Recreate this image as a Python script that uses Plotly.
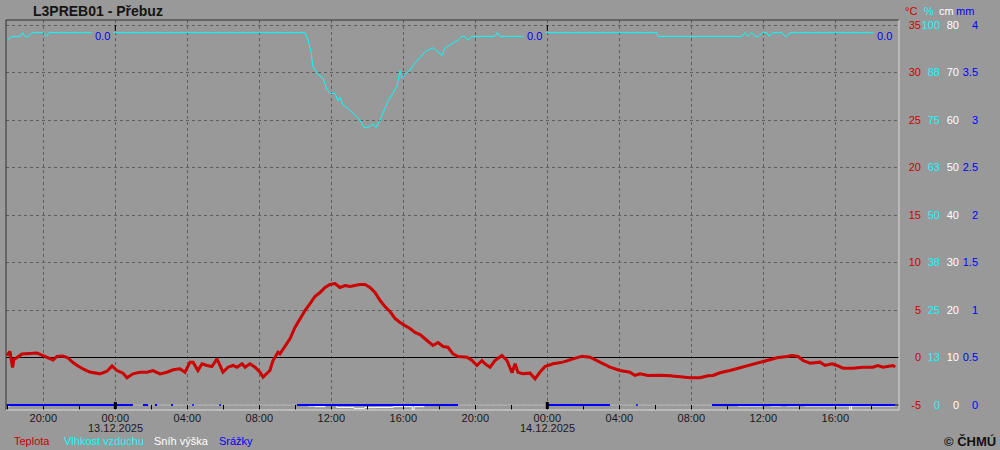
import plotly.graph_objects as go
import pandas as pd

station = "L3PREB01 - Přebuz"
base = pd.Timestamp("2025-12-13 00:00")

# hours relative to 13.12.2025 00:00
temp_h = [-6.02, -5.85, -5.71, -5.63, -5.46, -5.18, -4.74, -4.35, -4.02, -3.63,
          -3.46, -3.24, -2.91, -2.63, -2.35, -2.07, -1.74, -1.41, -1.07, -0.85,
          -0.46, -0.18, 0.09, 0.43, 0.65, 0.98, 1.37, 1.76, 2.09, 2.48,
          2.87, 3.21, 3.59, 3.87, 4.15, 4.32, 4.59, 4.82, 5.09, 5.37,
          5.65, 5.82, 5.98, 6.26, 6.54, 6.76, 7.04, 7.21, 7.48, 7.76,
          8.04, 8.21, 8.43, 8.59, 8.76, 9.04, 9.15, 9.32, 9.54, 9.71,
          9.98, 10.26, 10.54, 10.82, 11.09, 11.37, 11.65, 11.93, 12.21, 12.48,
          12.76, 13.04, 13.32, 13.59, 13.87, 14.15, 14.43, 14.71, 14.98, 15.26,
          15.54, 15.82, 16.09, 16.37, 16.65, 16.93, 17.32, 17.65, 17.93, 18.21,
          18.48, 18.76, 19.04, 19.54, 19.82, 20.09, 20.37, 20.54, 20.82, 21.09,
          21.48, 21.76, 22.04, 22.21, 22.37, 22.65, 23.04, 23.32, 23.59, 23.87,
          24.32, 24.87, 25.43, 25.93, 26.37, 26.93, 27.48, 28.04, 28.59, 28.87,
          29.15, 29.59, 30.26, 30.82, 31.37, 31.93, 32.48, 32.93, 33.21, 33.59,
          34.15, 34.71, 35.26, 35.82, 36.21, 36.76, 37.32, 37.59, 37.93, 38.21,
          38.59, 39.15, 39.43, 39.82, 40.09, 40.43, 40.98, 41.54, 42.09, 42.37,
          42.65, 42.93, 43.21, 43.32]
temp_c = [0.21, 0.63, -1.05, -0.21, 0.0, 0.37, 0.42, 0.47, 0.21, -0.11,
          -0.26, 0.11, 0.16, -0.05, -0.53, -0.89, -1.26, -1.53, -1.68, -1.72,
          -1.44, -0.89, -1.37, -1.65, -2.14, -1.72, -1.55, -1.55, -1.37, -1.72,
          -1.55, -1.29, -1.19, -1.55, -0.49, -0.49, -1.37, -0.66, -0.84, -0.95,
          -0.14, -0.84, -1.55, -1.02, -0.84, -1.02, -0.66, -1.02, -0.66, -1.02,
          -1.55, -2.07, -1.72, -1.37, -0.32, 0.56, 0.39, 0.92, 1.61, 2.0,
          3.16, 4.11, 4.95, 5.68, 6.42, 6.84, 7.37, 7.68, 7.79, 7.37,
          7.58, 7.47, 7.58, 7.68, 7.68, 7.37, 6.84, 6.0, 5.37, 4.84,
          4.11, 3.68, 3.37, 3.05, 2.63, 2.42, 1.79, 1.26, 1.58, 1.16,
          1.08, 0.39, 0.11, 0.03, -0.32, -0.84, -0.32, -0.66, -1.02, -0.32,
          0.21, -0.32, -1.61, -0.66, -1.55, -1.72, -1.65, -2.24, -1.55, -0.95,
          -0.66, -0.49, -0.14, 0.14, 0.03, -0.49, -1.02, -1.37, -1.55, -1.89,
          -1.72, -1.89, -1.86, -1.93, -2.07, -2.14, -2.14, -1.93, -1.89, -1.61,
          -1.37, -1.08, -0.74, -0.49, -0.24, -0.03, 0.11, 0.21, 0.11, -0.32,
          -0.6, -0.49, -0.84, -0.66, -0.84, -1.13, -1.13, -1.02, -1.02, -0.84,
          -1.02, -0.95, -0.84, -1.02]

hum_h = [-6.0, -5.76, -5.29, -5.14, -5.02, -4.83, -4.64, -4.0, -3.81, -3.67,
         10.54, 10.71, 10.87, 10.98, 11.26, 11.54, 11.76, 11.93, 12.21, 12.37,
         12.48, 12.65, 12.93, 13.15, 13.32, 13.59, 13.82, 14.04, 14.32, 14.48,
         14.71, 14.98, 15.15, 15.43, 15.65, 15.82, 15.93, 16.09, 16.37, 16.48,
         16.82, 17.21, 17.65, 17.87, 18.15, 18.32, 18.71, 19.04, 19.26, 19.43,
         19.59, 19.82, 21.09, 21.21, 21.37, 22.48, 23.5, 23.9, 30.09, 30.15,
         34.82, 34.98, 35.15, 35.37, 35.54, 35.71, 35.98, 36.21, 36.32, 36.54,
         37.04, 37.21, 37.32, 37.48, 43.32]
hum_pct = [96, 97, 97, 98, 97, 97, 98, 98, 97, 98,
           98, 96, 93, 89, 87, 86, 83, 82, 82, 80,
           81, 79, 78, 77, 76, 75, 73, 73, 74, 73,
           75, 78, 80, 82, 84, 88, 86, 87, 88, 89,
           91, 93, 94, 93, 92, 94, 95, 96, 97, 97,
           96, 97, 97, 98, 97, 97, 97, 98, 98, 97,
           97, 98, 97, 98, 97, 97, 98, 98, 97, 98,
           98, 97, 97, 98, 98]

snow_h = [-6.02, -5.85, 10.7, 11.1, 11.65, 12.3, 13.25, 13.85, 14.45, 15.45,
          16.5, 16.6, 17.15, 34.6, 35.95, 36.4, 37.0, 37.3, 38.0, 38.3,
          40.8, 40.9, 43.32]
snow_cm = [-0.2, 0, -0.2, -0.35, 0, -0.5, -0.7, -0.55, -0.5, -0.35,
           -1.05, -0.35, 0, -0.2, 0, -0.2, 0, -0.2, 0, -0.2,
           -1.05, -0.2, -0.2]

precip_h = [-6.02, 0.98, 1.2, 1.54, 1.82, 2.0, 2.2, 2.32, 2.6, 3.1,
            3.2, 3.6, 4.28, 4.36, 5.0, 5.78, 5.86, 8.0, 10.09, 19.04,
            22.0, 24.03, 27.48, 28.5, 28.94, 29.02, 31.0, 33.15, 43.32]
precip_mm = [0, 0, None, 0, 0, None, 0, 0, None, 0,
             0, None, 0, 0, None, 0, 0, None, 0, 0,
             None, 0, 0, None, 0, 0, None, 0, 0]

tick_times = ["2025-12-12 20:00", "2025-12-13 00:00", "2025-12-13 04:00", "2025-12-13 08:00",
              "2025-12-13 12:00", "2025-12-13 16:00", "2025-12-13 20:00", "2025-12-14 00:00",
              "2025-12-14 04:00", "2025-12-14 08:00", "2025-12-14 12:00", "2025-12-14 16:00"]
tick_labels = ["20:00", "00:00", "04:00", "08:00", "12:00", "16:00",
               "20:00", "00:00", "04:00", "08:00", "12:00", "16:00"]
day_starts = ["2025-12-13 00:00", "2025-12-14 00:00"]
day_labels = ["13.12.2025", "14.12.2025"]

temp_ticks = [-5, 0, 5, 10, 15, 20, 25, 30, 35]
hum_ticks = [0, 12.5, 25, 37.5, 50, 62.5, 75, 87.5, 100]
hum_labels = ["0", "13", "25", "38", "50", "63", "75", "88", "100"]
snow_ticks = [0, 10, 20, 30, 40, 50, 60, 70, 80]
precip_ticks = [0, 0.5, 1, 1.5, 2, 2.5, 3, 3.5, 4]
precip_labels = ["0", "0.5", "1", "1.5", "2", "2.5", "3", "3.5", "4"]

day_sum_times = ["2025-12-13 00:00", "2025-12-14 00:00", "2025-12-14 19:19"]
day_sum_texts = ["0.0", "0.0", "0.0"]

legend_names = ["Teplota", "Vlhkost vzduchu", "Sníh výška", "Srážky"]
unit_names = ["°C", "%", "cm", "mm"]

RED, CYAN, WHITE, BLUE = "#cc0000", "#00ffff", "#ffffff", "#0000ff"
BG = "#999999"
FONT = "Liberation Sans, Arial, sans-serif"

# layout geometry (pixels)
W, H = 1000, 450
L, T, B = 6, 20, 40
PLOT_R = 899
paper_w = W - L
dom_end = (PLOT_R - L) / paper_w


def px(x):
    return (x - L) / paper_w


def py(y):
    return (H - B - y) / (H - T - B)


def to_time(hs):
    return [base + pd.Timedelta(hours=h) for h in hs]


x_range = to_time([-6.072, 43.539])

fig = go.Figure()
fig.add_trace(go.Scatter(x=to_time(snow_h), y=snow_cm, yaxis="y3", mode="lines",
                         line=dict(color=WHITE, width=1, shape="hv"), name=legend_names[2]))
fig.add_trace(go.Scatter(x=to_time(precip_h), y=precip_mm, yaxis="y4", mode="lines",
                         line=dict(color=BLUE, width=2), connectgaps=False, name=legend_names[3]))
fig.add_trace(go.Scatter(x=to_time(hum_h), y=hum_pct, yaxis="y2", mode="lines",
                         line=dict(color=CYAN, width=1), name=legend_names[1]))
fig.add_trace(go.Scatter(x=to_time(temp_h), y=temp_c, yaxis="y", mode="lines",
                         line=dict(color=RED, width=3), name=legend_names[0]))

axfont = dict(family=FONT, size=11)


def yax(rng, tv, tt, color, pos, **kw):
    d = dict(range=rng, tickmode="array", tickvals=tv, ticktext=tt,
             tickfont=dict(axfont, color=color), side="left", anchor="free",
             position=pos, showline=False, ticks="", showgrid=False, zeroline=False,
             fixedrange=True)
    d.update(kw)
    return d


fig.update_layout(
    width=W, height=H,
    margin=dict(l=L, r=0, t=T, b=B, pad=0),
    paper_bgcolor=BG, plot_bgcolor=BG,
    showlegend=False,
    xaxis=dict(type="date", domain=[0, dom_end], range=x_range,
               tickmode="array", tickvals=tick_times, ticktext=tick_labels,
               tickfont=dict(axfont, color="#1a1a1a"),
               ticks="inside", ticklen=5, tickcolor="black", tickwidth=1,
               showgrid=True, gridcolor="#5e5e5e", griddash="3px,3px", gridwidth=1,
               minor=dict(dtick=2 * 3600 * 1000, tick0="2025-12-12 00:00", ticks="inside",
                          ticklen=5, tickcolor="black", showgrid=False),
               showline=False, zeroline=False, fixedrange=True),
    yaxis=yax([-5.526, 35.526], temp_ticks, [str(v) for v in temp_ticks], RED, px(921),
              showgrid=True, gridcolor="#5e5e5e", griddash="3px,3px", gridwidth=1,
              zeroline=True, zerolinecolor="black", zerolinewidth=1),
    yaxis2=yax([-1.316, 101.316], hum_ticks, hum_labels, CYAN, px(940), overlaying="y"),
    yaxis3=yax([-1.0526, 81.0526], snow_ticks, [str(v) for v in snow_ticks], WHITE, px(959),
               overlaying="y"),
    yaxis4=yax([-0.05263, 4.05263], precip_ticks, precip_labels, BLUE, px(978), overlaying="y"),
)

shapes = [
    # frame
    dict(type="line", xref="paper", yref="paper", x0=0, x1=dom_end, y0=1, y1=1,
         line=dict(color="#303030", width=1), layer="above"),
    dict(type="line", xref="paper", yref="paper", x0=0, x1=0, y0=0, y1=1,
         line=dict(color="#303030", width=1), layer="above"),
    dict(type="line", xref="paper", yref="paper", x0=dom_end, x1=dom_end, y0=0, y1=1,
         line=dict(color="#dcdcdc", width=1), layer="above"),
    dict(type="line", xref="paper", yref="paper", x0=0, x1=dom_end, y0=0, y1=0,
         line=dict(color="#dcdcdc", width=1), layer="above"),
    # bottom base line at -5 °C
    dict(type="line", xref="paper", yref="y", x0=0, x1=dom_end, y0=-5, y1=-5,
         line=dict(color="black", width=1), layer="between"),
]
for d in day_starts:
    shapes.append(dict(type="line", xref="x", yref="paper", x0=d, x1=d, y0=py(409), y1=py(402),
                       line=dict(color="black", width=3), layer="above"))
    shapes.append(dict(type="line", xref="x", yref="paper", x0=d, x1=d, y0=py(31), y1=py(25),
                       line=dict(color="black", width=1), layer="above"))
fig.update_layout(shapes=shapes)

ann = []
ann.append(dict(text="<b>" + station + "</b>", xref="paper", yref="paper", x=px(98), y=py(11),
                xanchor="center", yanchor="middle", showarrow=False,
                font=dict(family=FONT, size=14, color="#141414")))
unit_right = [919, 936, 956, 976]
for name, xr, col in zip(unit_names, unit_right, [RED, CYAN, WHITE, BLUE]):
    ann.append(dict(text=name, xref="paper", yref="paper", x=px(xr), y=py(11),
                    xanchor="right", yanchor="middle", showarrow=False,
                    font=dict(family=FONT, size=11, color=col)))
leg_left = [12, 62, 152, 217]
for name, xl, col in zip(legend_names, leg_left, [RED, CYAN, WHITE, BLUE]):
    ann.append(dict(text=name, xref="paper", yref="paper", x=px(xl), y=py(441),
                    xanchor="left", yanchor="middle", showarrow=False,
                    font=dict(family=FONT, size=11, color=col)))
ann.append(dict(text="<b>© ČHMÚ</b>", xref="paper", yref="paper", x=px(998), y=py(441),
                xanchor="right", yanchor="middle", showarrow=False,
                font=dict(family=FONT, size=13, color="#111111")))
for d, lab in zip(day_starts, day_labels):
    ann.append(dict(text=lab, xref="x", yref="paper", x=d, y=py(428),
                    xanchor="center", yanchor="middle", showarrow=False,
                    font=dict(family=FONT, size=11, color="#1a1a1a")))
for t, s, sh in zip(day_sum_times, day_sum_texts, [-1, -1, 1]):
    ann.append(dict(text=s, xref="x", yref="paper", x=t, y=py(36), xshift=sh,
                    xanchor="right", yanchor="middle", showarrow=False,
                    bgcolor=BG, borderpad=3,
                    font=dict(family=FONT, size=11, color=BLUE)))
fig.update_layout(annotations=ann)

fig.write_html("out.html", config={"displayModeBar": False, "staticPlot": True},
               post_script="document.body.style.margin='0';document.body.style.padding='0';"
                           "document.body.style.overflow='hidden';")
